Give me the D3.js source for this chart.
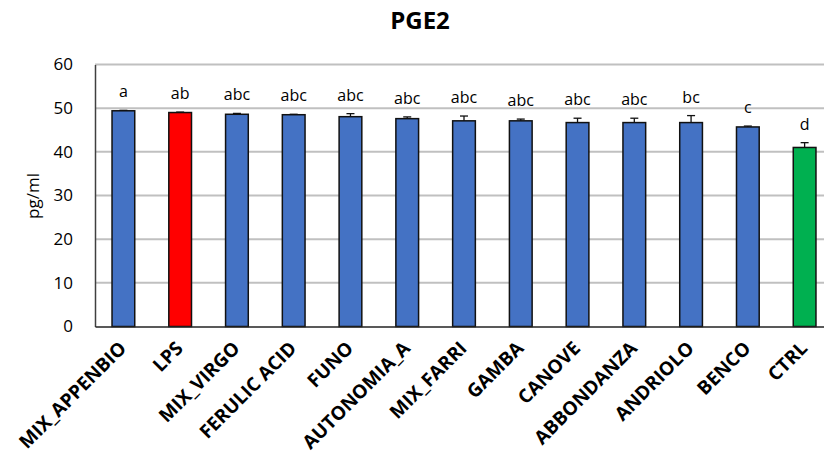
<!DOCTYPE html>
<html>
<head>
<meta charset="utf-8">
<script src="https://cdn.jsdelivr.net/npm/d3@7"></script>
<style>
  html, body { margin: 0; padding: 0; background: #fff; }
  svg { display: block; }
  text { font-family: "Open Sans", "Noto Sans", sans-serif; fill: #000; }
</style>
</head>
<body>
<svg id="chart" width="824" height="463"></svg>
<script>
const categories = ["MIX_APPENBIO", "LPS", "MIX_VIRGO", "FERULIC ACID", "FUNO", "AUTONOMIA_A", "MIX_FARRI", "GAMBA", "CANOVE", "ABBONDANZA", "ANDRIOLO", "BENCO", "CTRL"];
const values = [49.4, 49.0, 48.6, 48.5, 48.05, 47.6, 47.1, 47.1, 46.7, 46.7, 46.7, 45.7, 41.0];
const errors = [0.1, 0.1, 0.2, 0.1, 0.7, 0.4, 1.1, 0.4, 1.0, 1.0, 1.6, 0.2, 1.1];
const letters = ["a", "ab", "abc", "abc", "abc", "abc", "abc", "abc", "abc", "abc", "bc", "c", "d"];
const barColors = ["#4472C4", "#FF0000", "#4472C4", "#4472C4", "#4472C4", "#4472C4", "#4472C4", "#4472C4", "#4472C4", "#4472C4", "#4472C4", "#4472C4", "#00B050"];
const yTicks = [0, 10, 20, 30, 40, 50, 60];
const title = "PGE2";
const yLabel = "pg/ml";

(function () {
const svg = d3.select("#chart");
const mLeft = 95, mRight = 833, mTop = 64.5, mBottom = 326.5;

const x = d3.scaleBand().domain(categories).range([mLeft, mRight]).paddingInner(0.6).paddingOuter(0.3);
const y = d3.scaleLinear().domain([0, 60]).range([mBottom, mTop]);

// gridlines
svg.append("g").selectAll("line").data(yTicks.filter(t => t > 0)).join("line")
  .attr("x1", mLeft).attr("x2", 824)
  .attr("y1", d => y(d)).attr("y2", d => y(d))
  .attr("stroke", "#c0c0c0").attr("stroke-width", 2);

// y axis
const yAxis = d3.axisLeft(y).tickValues(yTicks).tickSize(0).tickPadding(22);
const gy = svg.append("g").attr("transform", `translate(${mLeft},0)`).call(yAxis);
gy.select(".domain").attr("stroke", "#404040").attr("stroke-width", 1.5);
gy.selectAll("text").style("font-size", "17px").style("font-family", "Open Sans, sans-serif").attr("fill", "#000");

// bars
svg.append("g").selectAll("rect").data(categories).join("rect")
  .attr("x", d => x(d))
  .attr("width", x.bandwidth())
  .attr("y", (d, i) => y(values[i]))
  .attr("height", (d, i) => y(0) - y(values[i]))
  .attr("fill", (d, i) => barColors[i])
  .attr("stroke", "#111").attr("stroke-width", 1.5);

// error bars
const eg = svg.append("g").attr("stroke", "#111").attr("stroke-width", 1.3);
categories.forEach((c, i) => {
  const cx = x(c) + x.bandwidth() / 2;
  eg.append("line").attr("x1", cx).attr("x2", cx).attr("y1", y(values[i])).attr("y2", y(values[i] + errors[i]));
  eg.append("line").attr("x1", cx - 4).attr("x2", cx + 4).attr("y1", y(values[i] + errors[i])).attr("y2", y(values[i] + errors[i]));
});

// x axis
const xAxis = d3.axisBottom(x).tickSize(0).tickFormat("");
const gx = svg.append("g").attr("transform", `translate(0,${mBottom})`).call(xAxis);
gx.select(".domain").attr("stroke", "#222").attr("stroke-width", 1.5);

// category labels
svg.append("g").selectAll("text").data(categories).join("text")
  .attr("transform", d => `translate(${x(d) + x.bandwidth() / 2 + 4},${mBottom + 23}) rotate(-45)`)
  .attr("text-anchor", "end")
  .style("font-size", "19px").style("font-weight", "bold")
  .text(d => d);

// significance letters
svg.append("g").selectAll("text").data(categories).join("text")
  .attr("x", d => x(d) + x.bandwidth() / 2)
  .attr("y", (d, i) => y(values[i] + errors[i]) - 13)
  .attr("text-anchor", "middle")
  .style("font-size", "16px")
  .text((d, i) => letters[i]);

// title
svg.append("text").attr("x", 420).attr("y", 29).attr("text-anchor", "middle")
  .style("font-size", "24px").style("font-weight", "bold").text(title);

// y label
svg.append("text").attr("transform", `translate(39,196) rotate(-90)`).attr("text-anchor", "middle")
  .style("font-size", "17px").text(yLabel);
})();
</script>
</body>
</html>
